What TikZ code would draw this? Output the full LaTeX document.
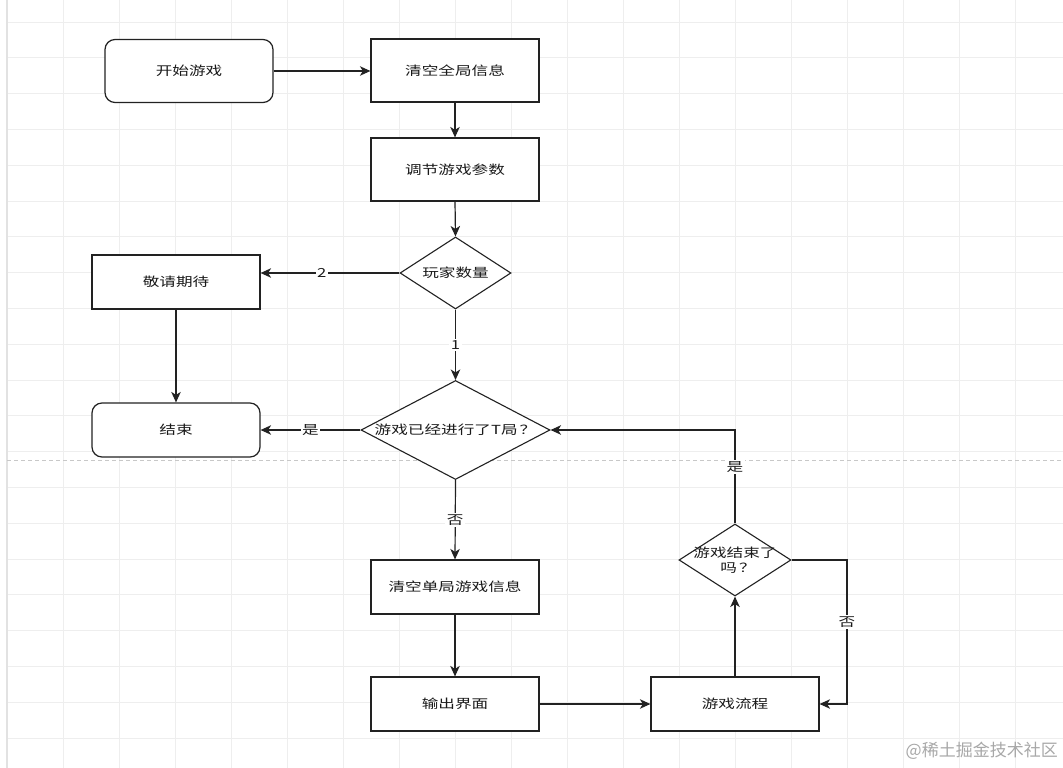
\documentclass[tikz,border=0pt]{standalone}
\usepackage{fontspec}
\setmainfont{Noto Sans CJK SC}[FakeStretch=1.33]
\newfontfamily\wmfont{Noto Sans CJK SC}
\usetikzlibrary{shapes.geometric,arrows.meta}
\definecolor{gridc}{HTML}{EEEEEE}
\definecolor{gridb}{HTML}{E2E2E2}
\definecolor{dashc}{HTML}{C8C8C8}
\definecolor{linec}{HTML}{222222}
\definecolor{textc}{HTML}{1A1A1A}
\definecolor{wmc}{HTML}{A8A8A8}
\begin{document}
\begin{tikzpicture}[x=1pt,y=-1pt,
  basefont/.style={font=\fontsize{12.5}{15}\selectfont, text=textc},
  box/.style={basefont, draw=linec, line width=1.2pt, fill=white, inner sep=0pt, minimum width=168pt},
  rbox/.style={box, rounded corners=10pt},
  dia/.style={shape=diamond, draw=linec, line width=1.1pt, fill=white, inner sep=0pt},
  txt/.style={basefont, inner sep=0pt, align=center},
  conn/.style={draw=linec, line width=1.2pt, -{Stealth[length=10.5pt,width=9.5pt,inset=3pt]}},
  lbl/.style={basefont, fill=white, inner sep=1.5pt},
]
\useasboundingbox (0,0) rectangle (1063,768);
\fill[white] (0,0) rectangle (1063,768);
% grid
\foreach \i in {1,...,18} {
  \draw[gridc, line width=0.9pt] ({7+56*\i},0) -- ({7+56*\i},768);
}
\foreach \j in {0,...,20} {
  \draw[gridc, line width=0.9pt] (7,{22+35.8*\j}) -- (1063,{22+35.8*\j});
}
\draw[gridb, line width=1.6pt] (7,0) -- (7,768);
\draw[dashc, line width=0.9pt, dash pattern=on 4pt off 3pt] (7,460) -- (1063,460);

% nodes
\node[rbox, minimum height=63pt] (start) at (189,71) {开始游戏};
\node[box, minimum height=63pt] (clr) at (455,70.5) {清空全局信息};
\node[box, minimum height=63pt] (adj) at (455,169.5) {调节游戏参数};
\node[dia, minimum width=111pt, minimum height=72pt] (d1) at (455.5,273) {};
\node[txt] (d1t) at (d1.center) {玩家数量};
\node[box, minimum height=54pt] (jq) at (176,282) {敬请期待};
\node[rbox, minimum height=54pt] (end) at (176,430) {结束};
\node[dia, minimum width=189pt, minimum height=99pt] (d2) at (455.5,430) {};
\node[txt] (d2t) at (d2.center) {游戏已经进行了T局\,？};
\node[box, minimum height=54pt] (clr2) at (455,587) {清空单局游戏信息};
\node[box, minimum height=54pt] (out) at (455,704) {输出界面};
\node[box, minimum height=54pt] (flow) at (735,704) {游戏流程};
\node[dia, minimum width=112pt, minimum height=72pt] (d3) at (735,560) {};
\node[txt] (d3t) at (d3.center) {游戏结束了\\\hspace*{0.5em}吗\,？};
\coordinate (cR) at (847,560);

% connectors
\draw[conn] (start.east) -- (clr.west |- start.east);
\draw[conn] (clr.south) -- (adj.north);
\draw[conn] (adj.south) -- (d1.north);
\draw[conn] (d1.west) -- node[lbl, pos=0.56]{2} (d1.west -| jq.east);
\draw[conn] (d1.south) -- node[lbl, pos=0.5]{1} (d2.north);
\draw[conn] (jq.south) -- (end.north);
\draw[conn] (d2.west) -- node[lbl, pos=0.5]{是} (end.east);
\draw[conn] (d2.south) -- node[lbl, pos=0.5]{否} (clr2.north);
\draw[conn] (clr2.south) -- (out.north);
\draw[conn] (out.east) -- (flow.west);
\draw[conn] (flow.north) -- (d3.south);
\draw[conn] (d3.north) |- node[lbl, pos=0.3]{是} (d2.east);
\draw[conn] (d3.east) -- (cR) |- node[lbl, pos=0.215]{否} (flow.east);

% watermark
\node[font=\wmfont\fontsize{17}{20}\selectfont, text=wmc, inner sep=0pt, anchor=east] (wm) at (1058,751) {@稀土掘金技术社区};
\end{tikzpicture}
\end{document}
